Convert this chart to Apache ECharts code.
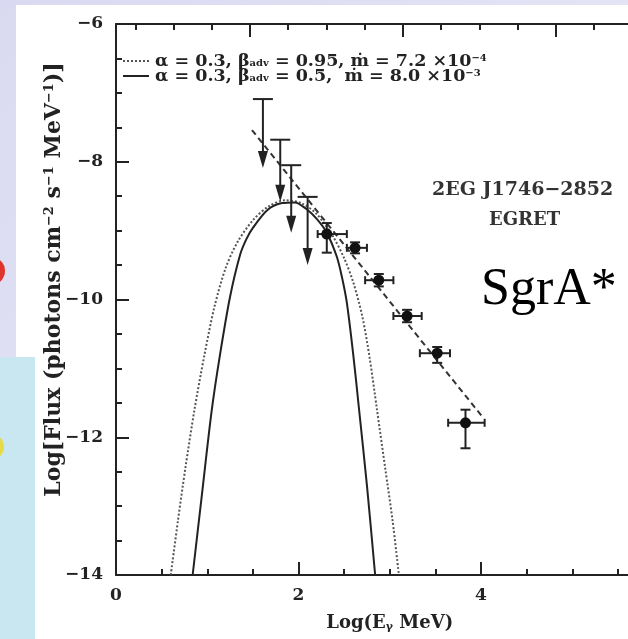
<!DOCTYPE html>
<html>
<head>
<meta charset="utf-8">
<title>2EG J1746-2852 EGRET</title>
<script src="https://cdn.jsdelivr.net/npm/echarts@6/dist/echarts.min.js"></script>
<style>
  html, body { margin: 0; padding: 0; }
  #main { width: 628px; height: 639px; }
</style>
</head>
<body>
<div id="main"></div>
<script>
// model curves: [log E, log flux]
const dottedCurve = [
  [0.60, -14.0], [0.68, -13.2], [0.76, -12.45], [0.86, -11.6], [0.97, -10.8],
  [1.08, -10.1], [1.20, -9.55], [1.33, -9.17], [1.50, -8.85], [1.67, -8.65],
  [1.85, -8.56], [2.03, -8.60], [2.20, -8.76], [2.38, -9.09], [2.50, -9.40],
  [2.60, -9.75], [2.70, -10.25], [2.78, -10.85], [2.86, -11.6], [2.95, -12.45],
  [3.03, -13.2], [3.10, -14.0]
];
const solidCurve = [
  [0.84, -14.0], [0.94, -12.85], [1.05, -11.6], [1.14, -10.8], [1.25, -9.96],
  [1.36, -9.35], [1.43, -9.12], [1.50, -8.96], [1.66, -8.70], [1.82, -8.60],
  [1.96, -8.59], [2.09, -8.69], [2.20, -8.83], [2.31, -9.03], [2.42, -9.38],
  [2.48, -9.70], [2.53, -10.05], [2.60, -10.80], [2.66, -11.55], [2.75, -12.70],
  [2.84, -14.0]
];
// power-law fit (dashed)
const fitLine = [[1.49, -7.54], [4.02, -11.71]];

// upper limits
const ulX = [1.61, 1.80, 1.92, 2.10];
const ulTop = [-7.09, -7.68, -8.05, -8.51];
const ulTip = [-8.09, -8.58, -9.03, -9.50];

// detections with error bars
const ptX = [2.31, 2.62, 2.88, 3.19, 3.52, 3.83];
const ptY = [-9.05, -9.25, -9.72, -10.24, -10.78, -11.79];
const ptXLo = [2.21, 2.53, 2.73, 3.04, 3.33, 3.64];
const ptXHi = [2.53, 2.75, 3.04, 3.35, 3.66, 4.04];
const ptYLo = [-9.32, -9.33, -9.81, -10.33, -10.92, -12.16];
const ptYHi = [-8.89, -9.17, -9.63, -10.15, -10.69, -11.60];

// ticks on the upper frame (a different scale in the original)
const topMajorTicks = [1.468, 3.145, 4.822];
const topMinorTicks = [0.211, 0.630, 1.049, 1.887, 2.306, 2.726, 3.564, 3.984, 4.403, 5.241, 5.660];

const name1 = "dotted";
const name2 = "solid";
const legendText = {
  dotted: "α = 0.3, β{sub|adv} = 0.95, ṁ = 7.2 ×10{sup|−4}",
  solid: "α = 0.3, β{sub|adv} = 0.5,  ṁ = 8.0 ×10{sup|−3}"
};

const ink = "#222";
const serif = "DejaVu Serif";

const myChart = echarts.init(document.getElementById("main"));

function renderLimit(params, api) {
  const x = api.value(0);
  const top = api.coord([x, api.value(1)]);
  const tip = api.coord([x, api.value(2)]);
  const st = { stroke: ink, lineWidth: 2 };
  return {
    type: "group",
    children: [
      { type: "line", shape: { x1: top[0] - 10, y1: top[1], x2: top[0] + 10, y2: top[1] }, style: st },
      { type: "line", shape: { x1: top[0], y1: top[1], x2: tip[0], y2: tip[1] - 12 }, style: st },
      {
        type: "polygon",
        shape: { points: [[tip[0] - 5, tip[1] - 17], [tip[0] + 5, tip[1] - 17], [tip[0], tip[1]]] },
        style: { fill: ink }
      }
    ]
  };
}

function renderPoint(params, api) {
  const c = api.coord([api.value(0), api.value(1)]);
  const l = api.coord([api.value(2), api.value(1)]);
  const r = api.coord([api.value(3), api.value(1)]);
  const b = api.coord([api.value(0), api.value(4)]);
  const t = api.coord([api.value(0), api.value(5)]);
  const st = { stroke: ink, lineWidth: 2 };
  return {
    type: "group",
    children: [
      { type: "line", shape: { x1: l[0], y1: c[1], x2: r[0], y2: c[1] }, style: st },
      { type: "line", shape: { x1: l[0], y1: c[1] - 4, x2: l[0], y2: c[1] + 4 }, style: st },
      { type: "line", shape: { x1: r[0], y1: c[1] - 4, x2: r[0], y2: c[1] + 4 }, style: st },
      { type: "line", shape: { x1: c[0], y1: t[1], x2: c[0], y2: b[1] }, style: st },
      { type: "line", shape: { x1: c[0] - 5, y1: t[1], x2: c[0] + 5, y2: t[1] }, style: st },
      { type: "line", shape: { x1: c[0] - 5, y1: b[1], x2: c[0] + 5, y2: b[1] }, style: st },
      { type: "circle", shape: { cx: c[0], cy: c[1], r: 5.5 }, style: { fill: "#111" } }
    ]
  };
}

const tickLabel = {
  color: ink,
  fontFamily: serif,
  fontWeight: "bold",
  fontSize: 17
};

const option = {
  animation: false,
  backgroundColor: "transparent",
  graphic: [
    {
      type: "rect", z: -10, silent: true,
      shape: { x: 0, y: 0, width: 628, height: 639 },
      style: {
        fill: new echarts.graphic.LinearGradient(0, 0, 1, 1, [
          { offset: 0, color: "#d9d9f1" },
          { offset: 0.5, color: "#e4e4f6" },
          { offset: 1, color: "#d6d6ef" }
        ])
      }
    },
    { type: "rect", z: -9, silent: true, shape: { x: 16, y: 5, width: 612, height: 634 }, style: { fill: "#ffffff" } },
    { type: "rect", z: -8, silent: true, shape: { x: 0, y: 357, width: 35, height: 282 }, style: { fill: "#c8e7f1" } },
    { type: "circle", z: -8, silent: true, shape: { cx: -9, cy: 271, r: 14 }, style: { fill: "#e0342f" } },
    { type: "circle", z: -7, silent: true, shape: { cx: -9, cy: 447, r: 13 }, style: { fill: "#e6da48" } },
    {
      type: "text", left: 432, top: 181, silent: true,
      style: { text: "2EG J1746−2852", fill: "#333", font: "bold 19px 'DejaVu Serif'" }
    },
    {
      type: "text", left: 489, top: 211, silent: true,
      style: { text: "EGRET", fill: "#333", font: "bold 18px 'DejaVu Serif'" }
    },
    {
      type: "text", left: 481, top: 264, silent: true,
      style: { text: "SgrA*", fill: "#000", font: "52px 'Liberation Serif'" }
    }
  ],
  legend: {
    orient: "vertical",
    left: 117,
    top: 47,
    itemWidth: 26,
    itemHeight: 14,
    itemGap: -3,
    selectedMode: false,
    data: [name1, name2],
    itemStyle: { opacity: 0, borderWidth: 0 },
    formatter: function (name) { return legendText[name]; },
    textStyle: {
      color: ink,
      fontFamily: serif,
      fontWeight: "bold",
      fontSize: 17.5,
      lineHeight: 15,
      padding: [0, 0, 0, 1],
      rich: {
        sub: { fontSize: 10, fontFamily: serif, fontWeight: "bold", color: ink, verticalAlign: "bottom", lineHeight: 15 },
        sup: { fontSize: 10, fontFamily: serif, fontWeight: "bold", color: ink, verticalAlign: "top", lineHeight: 15 }
      }
    }
  },
  grid: {
    left: 116,
    top: 24,
    width: 547.5,
    height: 551,
    containLabel: false,
    outerBoundsMode: "none",
    show: false
  },
  xAxis: [
    {
      type: "value",
      position: "bottom",
      min: 0,
      max: 6,
      interval: 2,
      name: "Log(E{sub|γ} MeV)",
      nameLocation: "middle",
      nameGap: 38,
      nameMoveOverlap: false,
      nameTextStyle: {
        color: ink, fontFamily: serif, fontWeight: "bold", fontSize: 18, lineHeight: 20,
        rich: {
          sub: { fontSize: 11, fontFamily: serif, fontWeight: "bold", color: ink, verticalAlign: "bottom", lineHeight: 20, padding: [8, 0, 0, 0] }
        }
      },
      axisLine: { show: true, onZero: false, lineStyle: { color: ink, width: 2 } },
      axisTick: { show: true, inside: true, length: 13, lineStyle: { color: ink, width: 2 } },
      minorTick: { show: true, splitNumber: 4, length: 6, lineStyle: { color: ink, width: 2 } },
      axisLabel: Object.assign({ margin: 12 }, tickLabel),
      splitLine: { show: false },
      minorSplitLine: { show: false }
    },
    {
      type: "value",
      position: "top",
      min: 0,
      max: 6,
      axisLine: { show: true, onZero: false, lineStyle: { color: ink, width: 2 } },
      axisTick: { show: true, inside: true, length: 6, customValues: topMinorTicks, lineStyle: { color: ink, width: 2 } },
      axisLabel: { show: false },
      splitLine: { show: false }
    },
    {
      type: "value",
      position: "top",
      min: 0,
      max: 6,
      axisLine: { show: false, onZero: false },
      axisTick: { show: true, inside: true, length: 13, customValues: topMajorTicks, lineStyle: { color: ink, width: 2 } },
      axisLabel: { show: false },
      splitLine: { show: false }
    }
  ],
  yAxis: {
    type: "value",
    min: -14,
    max: -6,
    interval: 2,
    name: "Log[Flux (photons cm{sup|−2} s{sup|−1} MeV{sup|−1})]",
    nameLocation: "middle",
    nameRotate: 90,
    nameGap: 51,
    nameMoveOverlap: false,
    nameTextStyle: {
      color: ink, fontFamily: serif, fontWeight: "bold", fontSize: 22, lineHeight: 22,
      padding: [0, 0, 0, 40],
      rich: {
        sup: { fontSize: 13, fontFamily: serif, fontWeight: "bold", color: ink, verticalAlign: "top", lineHeight: 22, padding: [0, 0, 9, 0] }
      }
    },
    axisLine: { show: true, onZero: false, lineStyle: { color: ink, width: 2 } },
    axisTick: { show: true, inside: true, length: 13, lineStyle: { color: ink, width: 2 } },
    minorTick: { show: true, splitNumber: 4, length: 6, lineStyle: { color: ink, width: 2 } },
    axisLabel: Object.assign({
      margin: 13,
      formatter: function (v) { return String(v).replace("-", "−"); }
    }, tickLabel),
    splitLine: { show: false },
    minorSplitLine: { show: false }
  },
  series: [
    {
      name: name1,
      type: "line",
      data: dottedCurve,
      symbol: "none",
      smooth: 0.3,
      clip: true,
      color: "#555",
      lineStyle: { color: "#555", width: 2, type: [2, 2] },
      z: 3
    },
    {
      name: name2,
      type: "line",
      data: solidCurve,
      symbol: "none",
      smooth: 0.3,
      clip: true,
      color: ink,
      lineStyle: { color: ink, width: 2, type: "solid" },
      z: 3
    },
    {
      name: "fit",
      type: "line",
      data: fitLine,
      symbol: "none",
      clip: true,
      lineStyle: { color: "#333", width: 2, type: [6, 4] },
      z: 3
    },
    {
      name: "limits",
      type: "custom",
      renderItem: renderLimit,
      data: ulX.map(function (x, i) { return [x, ulTop[i], ulTip[i]]; }),
      z: 4
    },
    {
      name: "points",
      type: "custom",
      renderItem: renderPoint,
      data: ptX.map(function (x, i) { return [x, ptY[i], ptXLo[i], ptXHi[i], ptYLo[i], ptYHi[i]]; }),
      z: 4
    }
  ]
};

myChart.setOption(option);
</script>
</body>
</html>
